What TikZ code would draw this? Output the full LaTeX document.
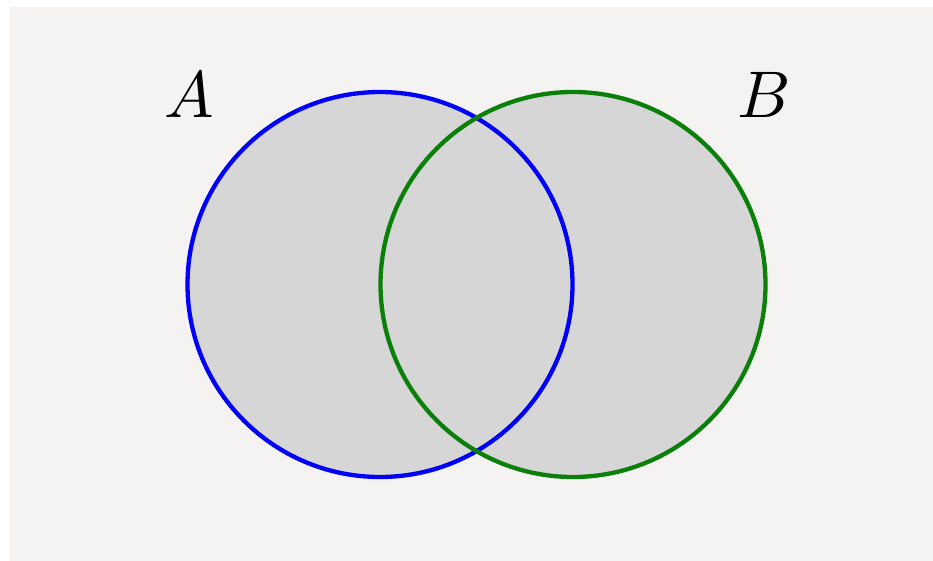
\documentclass[tikz,border=0pt]{standalone}
\begin{document}
\begin{tikzpicture}[x=1pt,y=-1pt,
  setfill/.style={fill={rgb,255:red,214;green,214;blue,214}},
  lab/.style={inner sep=0pt}]
\definecolor{bgc}{RGB}{244,243,242}
\definecolor{ca}{RGB}{0,0,250}
\definecolor{cb}{RGB}{10,128,10}
\useasboundingbox (0,0) rectangle (933,561);
\fill[white] (0,0) rectangle (933,561);
\fill[bgc] (10,7) rectangle (933,561);
\coordinate (ca0) at (380,284.5);
\coordinate (cb0) at (573,284.5);
\fill[setfill] (ca0) circle[radius=192.5];
\fill[setfill] (cb0) circle[radius=192.5];
\draw[ca, line width=4.3] (ca0) circle[radius=192.5];
\draw[cb, line width=4.3] (cb0) circle[radius=192.5];
\node[lab] (A) at (189,95) {\scalebox{6.6}{$A$}};
\node[lab] (B) at (764,95) {\scalebox{6.6}{$B$}};
\end{tikzpicture}
\end{document}
